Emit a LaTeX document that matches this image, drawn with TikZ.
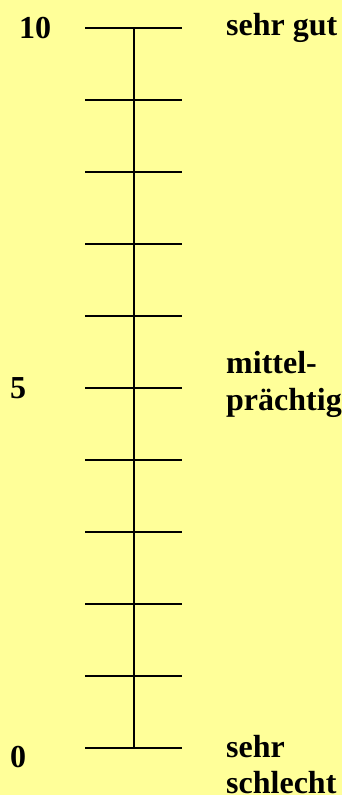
\documentclass[tikz,border=0pt]{standalone}
\usepackage{fontspec}
\setmainfont{Liberation Serif}
\definecolor{bg}{HTML}{FFFF99}
\begin{document}
\begin{tikzpicture}[x=1pt,y=-1pt,
  lbl/.style={anchor=base west,inner sep=0pt,font=\fontsize{32}{37}\selectfont\bfseries},
  scaleline/.style={line width=1.5pt,black}]
\fill[bg] (0,0) rectangle (342,795);
\useasboundingbox (0,0) rectangle (342,795);
\coordinate (top) at (134,28);
\coordinate (bot) at (134,748);
\draw[scaleline] (top) -- (bot);
\foreach \i in {0,...,10}{
  \coordinate (tl\i) at (85,{28+72*\i});
  \coordinate (tr\i) at (182,{28+72*\i});
  \draw[scaleline] (tl\i) -- (tr\i);
}
\node[lbl] (n10) at (19,38) {10};
\node[lbl] (n5) at (10,398) {5};
\node[lbl] (n0) at (10,767) {0};
\node[lbl] (good) at (226,35) {sehr gut};
\node[lbl] (mid1) at (226,373) {mittel-};
\node[lbl] (mid2) at (226,410) {prächtig};
\node[lbl] (bad1) at (226,757) {sehr};
\node[lbl] (bad2) at (226,793) {schlecht};
\end{tikzpicture}
\end{document}
